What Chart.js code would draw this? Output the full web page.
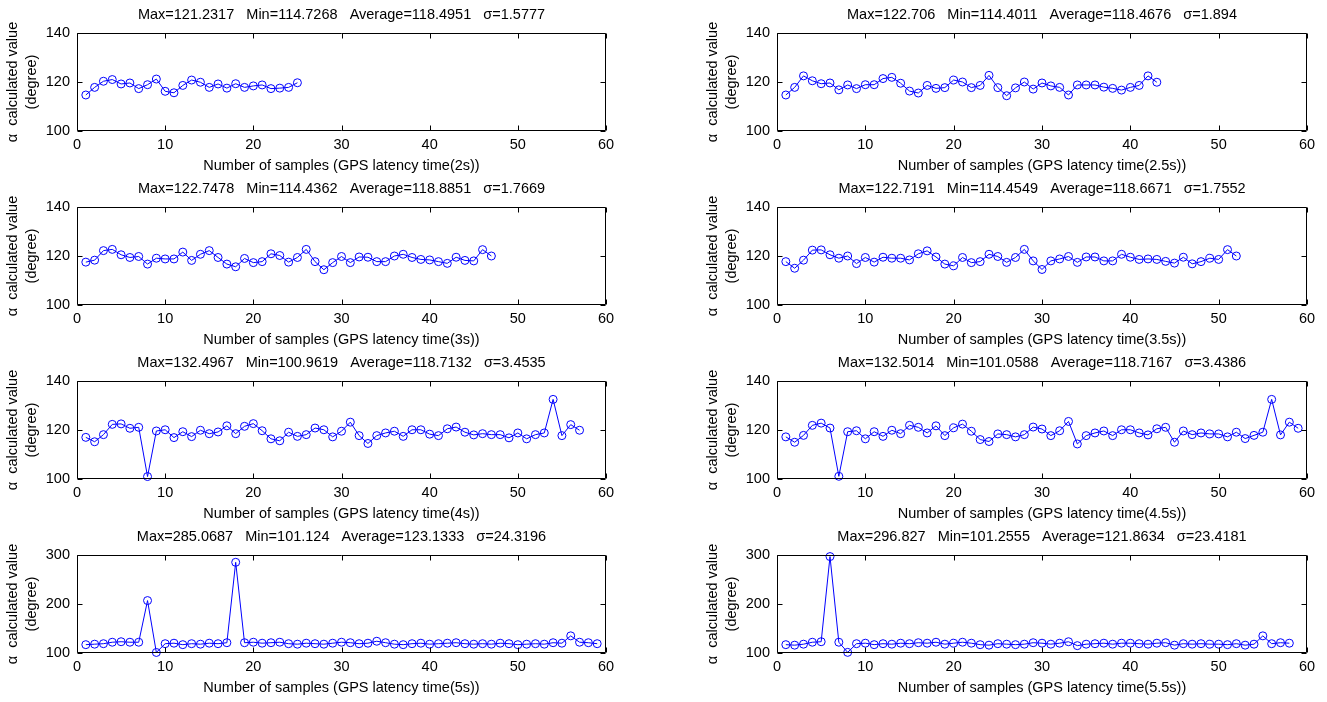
<!DOCTYPE html>
<html>
<head>
<meta charset="utf-8">
<script src="https://cdn.jsdelivr.net/npm/chart.js@4"></script>
<style>
  html, body { margin: 0; padding: 0; background: #fff; }
  #wrap { position: relative; width: 1327px; height: 702px; overflow: hidden; }
  #wrap canvas { position: absolute; }
</style>
</head>
<body>
<div id="wrap"></div>
<script>
// alpha values (sample 1, 2, 3 ...), one list per GPS latency
var lat2s = [114.7, 117.8, 120.3, 121.0, 119.2, 119.6, 117.3, 118.9, 121.2, 116.2,
  115.6, 118.6, 120.8, 119.9, 117.8, 119.2, 117.5, 119.3, 117.8, 118.4,
  118.8, 117.3, 117.5, 117.8, 119.7];
var lat25s = [114.7, 117.8, 122.5, 120.5, 119.3, 119.6, 116.8, 118.8, 117.3, 118.9,
  118.9, 121.4, 121.9, 119.5, 116.3, 115.5, 118.6, 117.4, 117.7, 120.8,
  120.0, 117.7, 118.6, 122.7, 117.7, 114.4, 117.6, 120.0, 117.1, 119.6,
  118.4, 117.8, 114.7, 118.8, 118.8, 118.8, 117.9, 117.4, 116.7, 117.8,
  118.6, 122.5, 119.9];
var lat3s = [117.5, 118.3, 122.2, 122.7, 120.5, 119.4, 119.8, 116.7, 119.1, 118.8,
  118.8, 121.6, 118.2, 120.7, 122.2, 119.4, 116.7, 115.6, 119.0, 117.3,
  117.7, 120.9, 120.2, 117.5, 119.4, 122.7, 117.7, 114.4, 117.3, 119.8,
  117.3, 119.6, 119.5, 117.7, 117.7, 120.0, 120.7, 119.4, 118.6, 118.4,
  117.7, 117.0, 119.5, 118.2, 118.0, 122.6, 120.0];
var lat35s = [117.7, 115.0, 118.3, 122.4, 122.5, 120.5, 119.1, 120.0, 116.9, 119.4,
  117.5, 119.5, 119.1, 119.1, 118.4, 120.9, 122.1, 119.6, 116.7, 116.0,
  119.4, 117.3, 117.7, 120.7, 119.8, 117.4, 119.4, 122.7, 118.0, 114.5,
  118.0, 118.8, 119.8, 117.4, 119.6, 119.6, 118.0, 118.0, 120.7, 119.5,
  118.6, 118.8, 118.6, 117.8, 117.1, 119.5, 116.8, 117.7, 119.1, 118.6,
  122.6, 120.0];
var lat4s = [117.0, 115.2, 118.1, 122.3, 122.5, 120.7, 121.1, 101.0, 119.6, 120.1,
  116.9, 119.3, 117.3, 119.9, 118.5, 119.2, 121.7, 118.5, 121.5, 122.6,
  119.7, 116.4, 115.6, 119.1, 117.4, 118.1, 120.8, 120.1, 117.2, 119.5,
  123.2, 117.7, 114.5, 117.7, 118.8, 119.5, 117.4, 120.1, 120.1, 118.3,
  117.7, 120.5, 121.2, 119.1, 118.0, 118.5, 118.1, 118.1, 116.8, 118.8,
  116.4, 118.1, 118.8, 132.5, 117.7, 122.2, 119.9];
var lat45s = [117.2, 115.0, 117.8, 121.9, 122.8, 120.8, 101.1, 119.3, 119.7, 116.4,
  119.3, 117.4, 119.9, 118.5, 121.9, 121.1, 118.8, 121.7, 117.7, 120.9,
  122.4, 119.5, 116.1, 115.3, 118.4, 118.1, 117.2, 118.1, 121.2, 120.4,
  117.7, 119.7, 123.5, 114.3, 117.7, 118.8, 119.6, 117.7, 120.1, 120.1,
  118.8, 118.0, 120.5, 121.1, 115.0, 119.6, 118.1, 118.8, 118.4, 118.4,
  117.2, 119.1, 116.5, 117.8, 119.1, 132.5, 118.0, 123.2, 120.7];
var lat5s = [117, 118, 119, 122, 123, 122, 122, 207, 101.1, 119,
  120, 117, 119, 118, 120, 119, 121, 285.1, 121, 122,
  120, 121, 122, 119, 118, 120, 119, 118, 120, 122,
  121, 119, 120, 124, 121, 118, 117, 119, 120, 118,
  119, 120, 121, 119, 118, 119, 118, 120, 119, 117,
  118, 119, 118, 121, 120, 135, 122, 121, 119];
var lat55s = [117, 116, 118, 122, 123, 296.8, 122, 101.3, 119, 120,
  117, 119, 118, 120, 119, 121, 120, 122, 118, 120,
  122, 120, 117, 116, 119, 118, 117, 118, 121, 120,
  118, 120, 123, 115, 118, 119, 120, 118, 120, 120,
  119, 118, 120, 121, 116, 119, 118, 119, 118, 118,
  117, 119, 116, 118, 135, 119, 121, 120];

var seriesList = [lat2s, lat25s, lat3s, lat35s, lat4s, lat45s, lat5s, lat55s];
var latencies = ['2s', '2.5s', '3s', '3.5s', '4s', '4.5s', '5s', '5.5s'];
var titles = [
  'Max=121.2317   Min=114.7268   Average=118.4951   \u03c3=1.5777',
  'Max=122.706   Min=114.4011   Average=118.4676   \u03c3=1.894',
  'Max=122.7478   Min=114.4362   Average=118.8851   \u03c3=1.7669',
  'Max=122.7191   Min=114.4549   Average=118.6671   \u03c3=1.7552',
  'Max=132.4967   Min=100.9619   Average=118.7132   \u03c3=3.4535',
  'Max=132.5014   Min=101.0588   Average=118.7167   \u03c3=3.4386',
  'Max=285.0687   Min=101.124   Average=123.1333   \u03c3=24.3196',
  'Max=296.827   Min=101.2555   Average=121.8634   \u03c3=23.4181'
];
var xTicks = [0, 10, 20, 30, 40, 50, 60];
var yTicksNarrow = [100, 120, 140];
var yTicksWide = [100, 200, 300];
var yLabel = ['\u03b1  calculated value', '(degree)'];

Chart.defaults.font.family = '"Liberation Sans", Arial, Helvetica, sans-serif';
Chart.defaults.font.size = 14.5;
Chart.defaults.color = '#000';

// MATLAB style box with the tick marks pointing inwards on all four sides
var boxTicks = {
  id: 'boxTicks',
  afterDraw: function(chart) {
    var ctx = chart.ctx, a = chart.chartArea;
    var xs = chart.scales.x, ys = chart.scales.y;
    var L = Math.round(a.left) + 0.5, R = Math.round(a.right) - 0.5;
    var T = Math.round(a.top) + 0.5, B = Math.round(a.bottom) - 0.5;
    ctx.save();
    ctx.strokeStyle = '#000';
    ctx.lineWidth = 1;
    ctx.beginPath();
    ctx.rect(L, T, R - L, B - T);
    xs.ticks.forEach(function(t) {
      var px = Math.round(xs.getPixelForValue(t.value)) + 0.5;
      ctx.moveTo(px, B); ctx.lineTo(px, B - 5);
      ctx.moveTo(px, T); ctx.lineTo(px, T + 5);
    });
    ys.ticks.forEach(function(t) {
      var py = Math.round(ys.getPixelForValue(t.value)) + 0.5;
      ctx.moveTo(L, py); ctx.lineTo(L + 5, py);
      ctx.moveTo(R, py); ctx.lineTo(R - 5, py);
    });
    ctx.stroke();
    ctx.restore();
  }
};

var wrap = document.getElementById('wrap');

seriesList.forEach(function(values, i) {
  var col = i % 2, row = Math.floor(i / 2);
  var canvas = document.createElement('canvas');
  canvas.width = col === 0 ? 640 : 627;
  canvas.height = 180;
  canvas.style.left = (col === 0 ? 0 : 700) + 'px';
  canvas.style.top = (row * 174) + 'px';
  wrap.appendChild(canvas);

  var yTicks = row === 3 ? yTicksWide : yTicksNarrow;
  var points = values.map(function(v, k) { return {x: k + 1, y: v}; });

  new Chart(canvas, {
    type: 'line',
    data: {
      datasets: [{
        data: points,
        borderColor: '#0000ff',
        borderWidth: 1,
        pointStyle: 'circle',
        pointRadius: 4,
        pointBorderWidth: 1,
        pointBorderColor: '#0000ff',
        pointBackgroundColor: 'rgba(0,0,0,0)',
        tension: 0,
        clip: false
      }]
    },
    options: {
      responsive: false,
      animation: false,
      layout: { padding: { left: 0, top: 0, bottom: 0, right: col === 0 ? 34 : 20 } },
      plugins: {
        legend: { display: false },
        tooltip: { enabled: false },
        title: {
          display: true,
          text: titles[i],
          fullSize: false,
          color: '#000',
          font: { weight: 'normal', size: 14.5 },
          padding: { top: 6, bottom: 9.6 }
        }
      },
      scales: {
        x: {
          type: 'linear',
          min: 0,
          max: 60,
          afterBuildTicks: function(s) { s.ticks = xTicks.map(function(v) { return {value: v}; }); },
          afterFit: function(s) { s.height = 49; },
          grid: { display: false, drawTicks: false },
          border: { display: false },
          ticks: { padding: 5, maxRotation: 0, autoSkip: false, color: '#000' },
          title: {
            display: true,
            text: 'Number of samples (GPS latency time(' + latencies[i] + '))',
            color: '#000',
            padding: { top: 0, bottom: 5 }
          }
        },
        y: {
          min: yTicks[0],
          max: yTicks[yTicks.length - 1],
          afterBuildTicks: function(s) { s.ticks = yTicks.map(function(v) { return {value: v}; }); },
          afterFit: function(s) { s.width = 77; },
          grid: { display: false, drawTicks: false },
          border: { display: false },
          ticks: { padding: 7, color: '#000' },
          title: {
            display: true,
            text: yLabel,
            color: '#000',
            font: { size: 14.5, lineHeight: 1.3 },
            padding: { top: 3.5, bottom: 0 }
          }
        }
      }
    },
    plugins: [boxTicks]
  });
});
</script>
</body>
</html>
